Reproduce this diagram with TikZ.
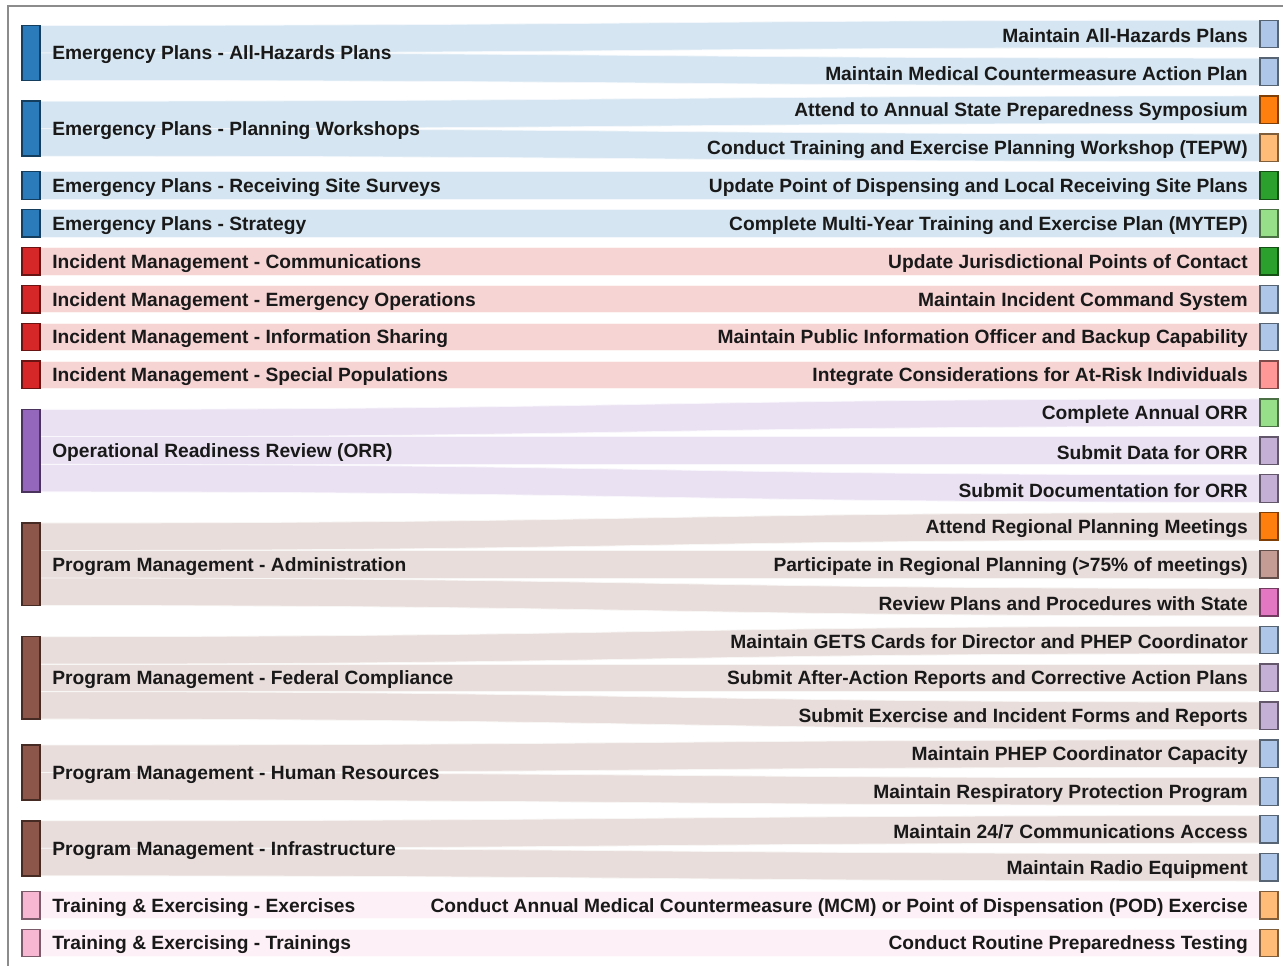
\documentclass[tikz,border=0pt]{standalone}
\usepackage{fontspec}
\setmainfont{Liberation Sans}
\usetikzlibrary{
  calc,
  backgrounds
}

% source groups
\definecolor{epblue}{HTML}{2B7BBA}
\definecolor{imred}{HTML}{D62728}
\definecolor{orrpurple}{HTML}{9467BD}
\definecolor{pmbrown}{HTML}{8C564B}
\definecolor{tepink}{HTML}{F7B6D2}
% targets
\definecolor{tblue}{HTML}{AEC7E8}
\definecolor{torange}{HTML}{FF7F0E}
\definecolor{tpeach}{HTML}{FFBB78}
\definecolor{tgreen}{HTML}{2CA02C}
\definecolor{tlime}{HTML}{98DF8A}
\definecolor{tsalmon}{HTML}{FF9896}
\definecolor{tlilac}{HTML}{C5B0D5}
\definecolor{ttan}{HTML}{C49C94}
\definecolor{tmagenta}{HTML}{E377C2}

\begin{document}
\begin{tikzpicture}[x=0.75pt,y=0.75pt]
  \tikzset{
    srcbox/.style={draw=#1!50!black, fill=#1, line width=1.1pt,
      minimum width=13.5pt, inner sep=0pt, outer sep=0pt},
    tgtbox/.style={draw=#1!50!black, fill=#1, line width=1.1pt,
      minimum width=13.5pt, minimum height=20.625pt, inner sep=0pt, outer sep=0pt},
    flowband/.style={fill=#1!20!white, draw=#1!5!white, line width=0.6pt},
    lbl/.style={font=\fontsize{14.4}{16}\selectfont\bfseries, inner sep=0pt,
      text=black!90, yshift=-1.5pt},
  }
  \useasboundingbox (0,0) rectangle (1283,-966);
  \draw[black!45, line width=1.5pt] (1283,-6) -- (8,-6) -- (8,-966);

  % targets, top to bottom
  \foreach \i/\col/\txt in {
    0/tblue/Maintain All-Hazards Plans,
    1/tblue/Maintain Medical Countermeasure Action Plan,
    2/torange/Attend to Annual State Preparedness Symposium,
    3/tpeach/Conduct Training and Exercise Planning Workshop (TEPW),
    4/tgreen/Update Point of Dispensing and Local Receiving Site Plans,
    5/tlime/Complete Multi-Year Training and Exercise Plan (MYTEP),
    6/tgreen/Update Jurisdictional Points of Contact,
    7/tblue/Maintain Incident Command System,
    8/tblue/Maintain Public Information Officer and Backup Capability,
    9/tsalmon/Integrate Considerations for At-Risk Individuals,
    10/tlime/Complete Annual ORR,
    11/tlilac/Submit Data for ORR,
    12/tlilac/Submit Documentation for ORR,
    13/torange/Attend Regional Planning Meetings,
    14/ttan/Participate in Regional Planning (>75\% of meetings),
    15/tmagenta/Review Plans and Procedures with State,
    16/tblue/Maintain GETS Cards for Director and PHEP Coordinator,
    17/tlilac/Submit After-Action Reports and Corrective Action Plans,
    18/tlilac/Submit Exercise and Incident Forms and Reports,
    19/tblue/Maintain PHEP Coordinator Capacity,
    20/tblue/Maintain Respiratory Protection Program,
    21/tblue/{Maintain 24/7 Communications Access},
    22/tblue/Maintain Radio Equipment,
    23/tpeach/Conduct Annual Medical Countermeasure (MCM) or Point of Dispensation (POD) Exercise,
    24/tpeach/Conduct Routine Preparedness Testing}
  {
    \node[tgtbox=\col] (t-\i) at (1269,{-34-37.875*\i}) {};
    \node[lbl, anchor=east, xshift=-9pt] (tl-\i) at (t-\i.west) {\txt};
  }

  % sources, centred on their targets
  \foreach \k/\first/\cnt/\col/\txt in {
    1/0/2/epblue/Emergency Plans - All-Hazards Plans,
    2/2/2/epblue/Emergency Plans - Planning Workshops,
    3/4/1/epblue/Emergency Plans - Receiving Site Surveys,
    4/5/1/epblue/Emergency Plans - Strategy,
    5/6/1/imred/Incident Management - Communications,
    6/7/1/imred/Incident Management - Emergency Operations,
    7/8/1/imred/Incident Management - Information Sharing,
    8/9/1/imred/Incident Management - Special Populations,
    9/10/3/orrpurple/Operational Readiness Review (ORR),
    10/13/3/pmbrown/Program Management - Administration,
    11/16/3/pmbrown/Program Management - Federal Compliance,
    12/19/2/pmbrown/Program Management - Human Resources,
    13/21/2/pmbrown/Program Management - Infrastructure,
    14/23/1/tepink/Training \& Exercising - Exercises,
    15/24/1/tepink/Training \& Exercising - Trainings}
  {
    \pgfmathsetmacro\srcy{34+37.875*(\first+(\cnt-1)/2)}
    \pgfmathsetmacro\srch{20.625*\cnt}
    \node[srcbox=\col, minimum height=\srch pt] (s-\k) at (31,-\srcy) {};
    \node[lbl, anchor=west, xshift=9pt] (sl-\k) at (s-\k.east) {\txt};
  }

  % flows: target/source/slot/colour
  \begin{scope}[on background layer]
    \foreach \i/\k/\j/\col in {
      0/1/0/epblue, 1/1/1/epblue, 2/2/0/epblue, 3/2/1/epblue,
      4/3/0/epblue, 5/4/0/epblue,
      6/5/0/imred, 7/6/0/imred, 8/7/0/imred, 9/8/0/imred,
      10/9/0/orrpurple, 11/9/1/orrpurple, 12/9/2/orrpurple,
      13/10/0/pmbrown, 14/10/1/pmbrown, 15/10/2/pmbrown,
      16/11/0/pmbrown, 17/11/1/pmbrown, 18/11/2/pmbrown,
      19/12/0/pmbrown, 20/12/1/pmbrown,
      21/13/0/pmbrown, 22/13/1/pmbrown,
      23/14/0/tepink, 24/15/0/tepink}
    \path[flowband=\col]
      let \p1=($(s-\k.north east)+(0,{-27.5*\j})$),
          \p2=(t-\i.north west), \p3=(t-\i.south west),
          \p4=($(\p1)+(0,-27.5)$), \n1={0.5*(\x1+\x2)} in
      (\p1) .. controls (\n1,\y1) and (\n1,\y2) .. (\p2)
      -- (\p3) .. controls (\n1,\y3) and (\n1,\y4) .. (\p4) -- cycle;
  \end{scope}
\end{tikzpicture}
\end{document}
